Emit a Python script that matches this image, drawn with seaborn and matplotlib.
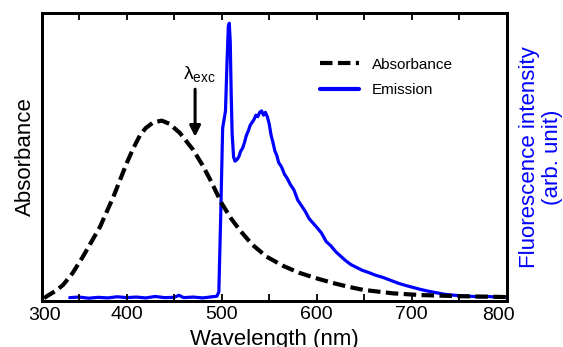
import numpy as np
import pandas as pd
import seaborn as sns
from matplotlib import pyplot as plt
from matplotlib.lines import Line2D

sns.set_style('ticks')
plt.rcParams['font.family'] = ['Liberation Sans', 'DejaVu Sans']
plt.rcParams['mathtext.fontset'] = 'custom'
plt.rcParams['mathtext.rm'] = 'Liberation Sans'
plt.rcParams.update({
    'text.color': 'black',
    'axes.labelcolor': 'black',
    'axes.edgecolor': 'black',
    'xtick.color': 'black',
})

# absorbance spectrum (normalised)
abs_wl = [313, 317, 325, 333, 343, 354, 363, 372, 386, 400, 407, 414, 420, 428, 437,
          445, 456, 470, 480, 488, 500, 510, 519, 532, 547, 565, 582, 600, 617, 633,
          649, 680, 709, 750, 785, 800]
abs_val = [0.008, 0.017, 0.033, 0.054, 0.095, 0.153, 0.205, 0.257, 0.361, 0.478, 0.53,
           0.575, 0.60, 0.62, 0.626, 0.615, 0.583, 0.524, 0.47, 0.42, 0.338, 0.285,
           0.245, 0.195, 0.153, 0.12, 0.096, 0.077, 0.061, 0.048, 0.037, 0.025, 0.019,
           0.015, 0.013, 0.012]

# emission spectrum (normalised)
em_wl = [340, 350, 360, 370, 380, 390, 400, 410, 420, 430, 440, 450, 455, 460, 470, 480,
         490, 495, 497, 499, 501, 503, 504, 505.5, 507, 508, 509, 510, 511, 512.5, 514,
         516, 518, 520, 522, 524, 526, 528, 530, 532, 534, 536, 538, 540, 542, 544, 546,
         548, 550, 552, 554, 556, 558, 560, 563, 566, 569, 572, 576, 580, 584, 588, 592,
         596, 600, 605, 610, 615, 620, 625, 630, 636, 642, 648, 655, 662, 670, 678, 686,
         694, 702, 710, 718, 726, 734, 742, 750, 760, 770, 780, 790, 800]
em_val = [0.010, 0.012, 0.008, 0.011, 0.009, 0.013, 0.010, 0.012, 0.009, 0.014, 0.010,
          0.011, 0.018, 0.010, 0.012, 0.009, 0.013, 0.015, 0.03, 0.30, 0.60, 0.64, 0.66,
          0.82, 0.955, 0.965, 0.90, 0.72, 0.58, 0.50, 0.485, 0.49, 0.50, 0.52, 0.53, 0.55,
          0.575, 0.59, 0.61, 0.62, 0.63, 0.645, 0.64, 0.655, 0.66, 0.645, 0.655, 0.64,
          0.615, 0.575, 0.55, 0.52, 0.505, 0.48, 0.465, 0.44, 0.425, 0.405, 0.385, 0.35,
          0.33, 0.31, 0.285, 0.27, 0.255, 0.235, 0.205, 0.19, 0.17, 0.155, 0.14, 0.125,
          0.115, 0.105, 0.097, 0.088, 0.08, 0.07, 0.06, 0.052, 0.045, 0.038, 0.032, 0.027,
          0.022, 0.019, 0.017, 0.015, 0.013, 0.014, 0.012, 0.012]

tick_pos = [400, 500, 600, 700]

abs_df = pd.DataFrame({'wl': abs_wl, 'val': abs_val})
em_df = pd.DataFrame({'wl': em_wl, 'val': em_val})

rect = [0.074, 0.134, 0.826, 0.828]
fig = plt.figure(figsize=(5.63, 3.47), dpi=100)
ax = fig.add_axes(rect)
ax2 = ax.twinx()

sns.lineplot(data=em_df, x='wl', y='val', ax=ax2, color='#0000ff', lw=2.3)
sns.lineplot(data=abs_df, x='wl', y='val', ax=ax, color='black', lw=3,
             dashes=False, linestyle=(0, (3, 1.3)))
ax.set_zorder(ax2.get_zorder() + 1)
ax.patch.set_visible(False)

for a in (ax, ax2):
    a.set_xlim(310.5, 800)
    a.set_ylim(0, 1)
    a.set_yticks([])
    for s in a.spines.values():
        s.set_linewidth(2)

ax.set_xticks(tick_pos)
ax.tick_params(axis='x', which='both', length=0, pad=4, labelsize=14)

# edge labels sit inside the axis ends
ax.text(314, -0.022, '300', fontsize=14, ha='center', va='top',
        transform=ax.get_xaxis_transform())
ax.text(791, -0.022, '800', fontsize=14, ha='center', va='top',
        transform=ax.get_xaxis_transform())

ax.set_xlabel('Wavelength (nm)', fontsize=16, labelpad=4)
ax.set_ylabel('Absorbance', fontsize=16, labelpad=4)
ax2.set_ylabel('Fluorescence intensity\n(arb. unit)', fontsize=16, color='#0000ff',
               labelpad=9, linespacing=1.1)

# excitation arrow
ax.annotate('', xy=(472, 0.56), xytext=(472, 0.745),
            arrowprops=dict(arrowstyle='-|>', color='black', lw=2.2, mutation_scale=16))
ax.text(477, 0.785, r'λ$_{\rm exc}$', fontsize=14, ha='center', va='center')

handles = [Line2D([], [], color='black', lw=3, linestyle=(0, (3, 1.3))),
           Line2D([], [], color='#0000ff', lw=3)]
ax.legend(handles, ['Absorbance', 'Emission'], loc='upper left',
          bbox_to_anchor=(0.598, 0.845), frameon=False, fontsize=11,
          handlelength=2.6, handletextpad=0.8, labelspacing=0.75,
          borderpad=0, borderaxespad=0)

# separate overlay axes just for the inward tick marks
tax = fig.add_axes(rect)
tax.set_zorder(ax.get_zorder() + 1)
tax.patch.set_visible(False)
for s in tax.spines.values():
    s.set_visible(False)
tax.set_xlim(310.5, 800)
tax.set_ylim(0, 1)
tax.set_yticks([])
tax.set_xticks(np.arange(350, 800, 50))
tax.tick_params(axis='x', which='both', direction='in', length=5, width=1.3,
                top=True, bottom=True, labelbottom=False, labeltop=False,
                color='black')

fig.savefig('out.png', dpi=100)
